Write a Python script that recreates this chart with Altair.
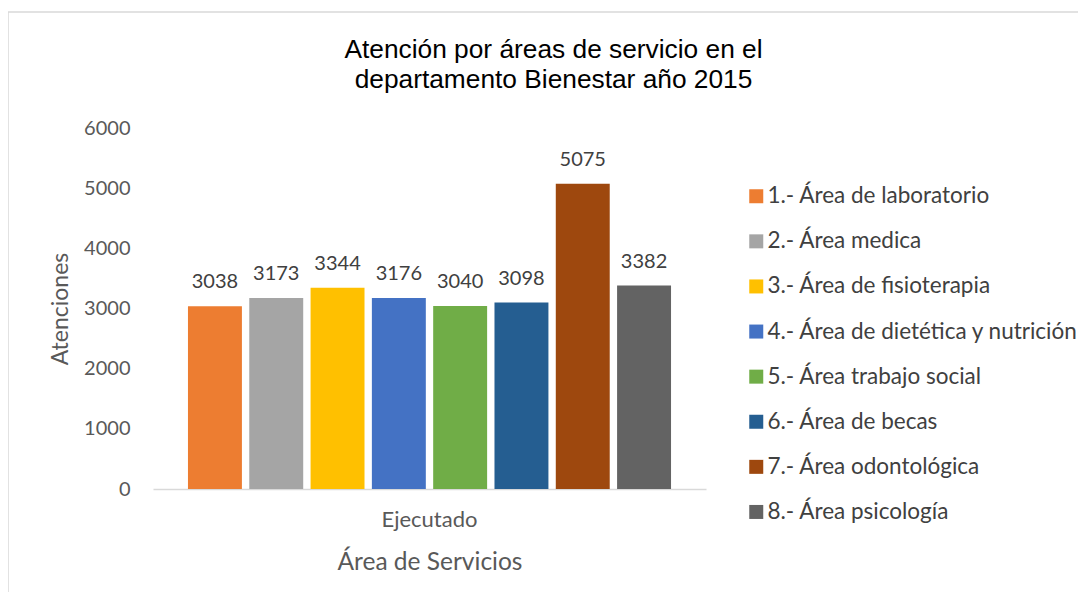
import altair as alt
import pandas as pd

areas = [
    "1.- Área de laboratorio",
    "2.- Área medica",
    "3.- Área de fisioterapia",
    "4.- Área de dietética y nutrición",
    "5.- Área trabajo social",
    "6.- Área de becas",
    "7.- Área odontológica",
    "8.- Área psicología",
]
values = [3038, 3173, 3344, 3176, 3040, 3098, 5075, 3382]
colors = ["#ED7D31", "#A5A5A5", "#FFC000", "#4472C4", "#70AD47", "#255E91", "#9E480E", "#636363"]
group = "Ejecutado"

df = pd.DataFrame({"grupo": [group] * len(areas), "area": areas, "valor": values})

W, H = 553, 361
FONT = "Lato"

x_enc = alt.X(
    "grupo:N",
    scale=alt.Scale(paddingInner=0, paddingOuter=0.0638),
    axis=alt.Axis(
        title="Área de Servicios",
        titleFont=FONT, titleFontSize=24.5, titleFontWeight="normal", titleColor="#595959",
        titlePadding=20,
        labelFont=FONT, labelFontSize=22, labelColor="#595959", labelAngle=0, labelPadding=20,
        ticks=False, domainColor="#D9D9D9", domainWidth=1.5,
    ),
)
xo_enc = alt.XOffset(
    "area:N", sort=areas, scale=alt.Scale(paddingInner=0.12, paddingOuter=0.06)
)
y_enc = alt.Y(
    "valor:Q",
    scale=alt.Scale(domain=[0, 6000]),
    axis=alt.Axis(
        title="Atenciones", values=[0, 1000, 2000, 3000, 4000, 5000, 6000], format="d",
        titleFont=FONT, titleFontSize=23, titleFontWeight="normal", titleColor="#595959",
        titlePadding=11,
        labelFont=FONT, labelFontSize=20, labelColor="#595959", labelPadding=23,
        grid=False, domain=False, ticks=False,
    ),
)

base = alt.Chart(df)

bars = base.mark_bar().encode(
    x=x_enc,
    xOffset=xo_enc,
    y=y_enc,
    fill=alt.Fill(
        "area:N",
        sort=areas,
        scale=alt.Scale(domain=areas, range=colors),
        legend=alt.Legend(
            title=None, orient="none", legendX=592, legendY=57,
            symbolType="square", symbolSize=196, symbolStrokeWidth=0,
            labelFont=FONT, labelFontSize=22.5, labelColor="#404040",
            labelOffset=0, rowPadding=22.1, labelLimit=400, padding=0,
        ),
    ),
)

labels = base.mark_text(
    font=FONT, fontSize=20, color="#404040", baseline="alphabetic", dy=-18
).encode(
    x=alt.X("grupo:N"),
    xOffset=alt.XOffset("area:N", sort=areas),
    y=alt.Y("valor:Q"),
    text=alt.Text("valor:Q"),
)

border = alt.Chart(pd.DataFrame({"k": [0]})).mark_rect(
    fill=None, stroke="#D9D9D9", strokeWidth=1.5
).encode(
    x=alt.value(-145), x2=alt.value(1000), y=alt.value(-116), y2=alt.value(600)
)

chart = alt.layer(border, bars, labels).properties(
    width=W,
    height=H,
    title=alt.TitleParams(
        text=["Atención por áreas de servicio en el", "departamento Bienestar año 2015"],
        font="Liberation Sans", fontSize=26.3, fontWeight="normal", color="#000000",
        anchor="middle", dx=124, offset=-82, lineHeight=30,
    ),
    autosize=alt.AutoSizeParams(type="none"),
    padding={"left": 145, "top": 120, "right": 372, "bottom": 103},
).configure_view(stroke=None).configure_scale(bandPaddingInner=0)

chart.save("out.html", embed_options={"renderer": "svg", "actions": False})
